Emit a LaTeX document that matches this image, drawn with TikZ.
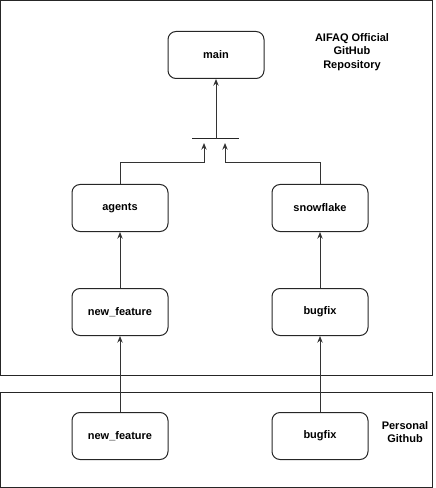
\documentclass[tikz,border=0pt]{standalone}
\usepackage{fontspec}
\setmainfont{Liberation Sans}
\usetikzlibrary{arrows.meta}
\begin{document}
\begin{tikzpicture}[x=0.75pt,y=-0.75pt,
  line width=0.75pt,
  every node/.style={font=\fontsize{8.25}{10}\selectfont\bfseries},
  branch/.style={draw=black!85, rounded corners=6pt, minimum width=96*0.75pt, minimum height=47*0.75pt, inner sep=0pt},
  region/.style={draw=black!85},
  lbl/.style={align=center, inner sep=0pt},
  conn/.style={draw=black!80, -{Stealth[length=5pt,width=4pt]}}]
\useasboundingbox (0,0) rectangle (435,488);
\draw[region] (0.5,0.5) rectangle (432,375);
\draw[region] (0.5,392) rectangle (432,487.5);
\node[branch] (main) at (216,55) {main};
\node[branch] (agents) at (120,208) {agents};
\node[branch] (snow) at (320,208) {snowflake};
\node[branch] (nf) at (120,312) {new\_feature};
\node[branch] (bf) at (320,312) {bugfix};
\node[branch] (pnf) at (120,436) {new\_feature};
\node[branch] (pbf) at (320,436) {bugfix};
\node[lbl] (offl) at (352,52) {AIFAQ Official\\GitHub\\Repository};
\node[lbl] (perl) at (405,432) {Personal\\Github};
\coordinate (barL) at (192,139);
\coordinate (barR) at (239,139);
\coordinate (barC) at (216,139);
\draw[draw=black!85] (barL) -- (barR);
\coordinate (inL) at (204,143);
\coordinate (inR) at (225,143);
\draw[conn] (barC) -- (main.south);
\draw[conn] (agents.north) |- (204,163) -- (inL);
\draw[conn] (snow.north) |- (225,163) -- (inR);
\draw[conn] (nf.north) -- (agents.south);
\draw[conn] (bf.north) -- (snow.south);
\draw[conn] (pnf.north) -- (nf.south);
\draw[conn] (pbf.north) -- (bf.south);
\end{tikzpicture}
\end{document}
